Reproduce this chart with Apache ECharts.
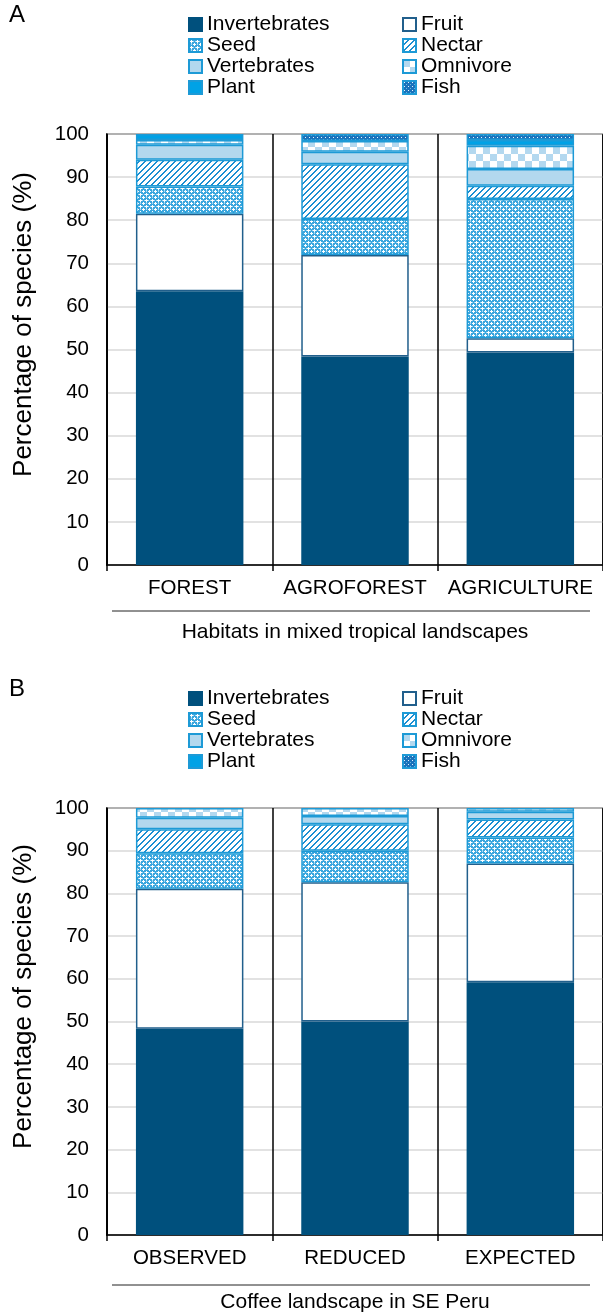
<!DOCTYPE html>
<html>
<head>
<meta charset="utf-8">
<script src="https://cdn.jsdelivr.net/npm/echarts@6/dist/echarts.min.js"></script>
<style>
html, body { margin: 0; padding: 0; background: #fff; }
#chart { width: 603px; height: 1314px; }
</style>
</head>
<body>
<div id="chart"></div>
<script>
const groups = ['Invertebrates', 'Fruit', 'Seed', 'Nectar', 'Vertebrates', 'Omnivore', 'Plant', 'Fish']
const habitatsA = ['FOREST', 'AGROFOREST', 'AGRICULTURE']
const scenariosB = ['OBSERVED', 'REDUCED', 'EXPECTED']

// panel A: % of species per diet guild, per habitat
const invertebratesA = [63.5, 48.4, 49.3]
const fruitA = [18.0, 23.5, 3.3]
const seedA = [6.3, 8.4, 32.3]
const nectarA = [6.2, 12.7, 3.1]
const vertebratesA = [3.5, 2.9, 3.9]
const omnivoreA = [1.1, 2.5, 5.4]
const plantA = [1.4, 0, 1.3]
const fishA = [0, 1.6, 1.4]

// panel B: coffee landscape scenarios
const invertebratesB = [48.3, 50.0, 59.2]
const fruitB = [32.8, 32.6, 27.8]
const seedB = [8.3, 7.4, 6.1]
const nectarB = [5.6, 6.2, 4.2]
const vertebratesB = [2.7, 1.9, 1.8]
const omnivoreB = [2.3, 1.9, 0.9]
const plantB = [0, 0, 0]
const fishB = [0, 0, 0]

const yTicks = { min: 0, max: 100, interval: 10 }
const FONT = 'Liberation Sans, Arial, sans-serif'

// small canvas tiles for the hatched fills
function tile(size, draw) {
  const c = document.createElement('canvas')
  c.width = size
  c.height = size
  draw(c.getContext('2d'))
  return { image: c, repeat: 'repeat' }
}
function dots(g, col, pts) {
  g.fillStyle = col
  pts.forEach(p => g.fillRect(p[0], p[1], 1, 1))
}

const seedFill = tile(6, g => {
  g.fillStyle = '#3aa6de'
  g.fillRect(0, 0, 6, 6)
  dots(g, '#ffffff', [[2, 1], [1, 2], [2, 2], [3, 2], [2, 3], [5, 4], [4, 5], [5, 5], [0, 5], [5, 0]])
  dots(g, '#a9d8f1', [[0, 2], [4, 2], [2, 5], [2, 4]])
})
const nectarFill = tile(6, g => {
  g.fillStyle = '#ffffff'
  g.fillRect(0, 0, 6, 6)
  const pts = []
  for (let x = 0; x < 6; x++) {
    pts.push([x, 5 - x])
    pts.push([x, (6 - x) % 6])
  }
  dots(g, '#1b8fd2', pts)
})
const omnivoreFill = tile(14, g => {
  g.fillStyle = '#ffffff'
  g.fillRect(0, 0, 14, 14)
  g.fillStyle = '#b3d8ef'
  g.fillRect(0, 0, 7, 7)
  g.fillRect(7, 7, 7, 7)
})
const fishFill = tile(4, g => {
  g.fillStyle = '#1a72bb'
  g.fillRect(0, 0, 4, 4)
  dots(g, '#e8f4fb', [[1, 1]])
  dots(g, '#6ab4e0', [[3, 3]])
})

const looks = [
  { color: '#00507d', borderColor: '#00507d' },
  { color: '#ffffff', borderColor: '#215f8c' },
  { color: seedFill, borderColor: '#1d9ad6' },
  { color: nectarFill, borderColor: '#1d9ad6' },
  { color: '#b3d8ee', borderColor: '#1d9ad6' },
  { color: omnivoreFill, borderColor: '#1d9ad6' },
  { color: '#00a2e6', borderColor: '#1d9ad6' },
  { color: fishFill, borderColor: '#1d9ad6' }
]

function makeSeries(values, idx) {
  return groups.map((name, i) => ({
    name: name,
    type: 'bar',
    stack: 'panel' + idx,
    xAxisIndex: idx,
    yAxisIndex: idx,
    barWidth: '65%',
    data: values[i].map(v => (v === 0 ? '-' : v)),
    itemStyle: Object.assign({ borderWidth: 1.5 }, looks[i]),
    emphasis: { disabled: true }
  }))
}

function legendCol(names, left, top) {
  return {
    data: names,
    orient: 'vertical',
    left: left,
    top: top,
    padding: 0,
    icon: 'rect',
    itemWidth: 13,
    itemHeight: 13,
    itemGap: 0,
    selectedMode: false,
    textStyle: { fontFamily: FONT, fontSize: 21, lineHeight: 21, color: '#000' }
  }
}

function xAxisFor(idx, cats, title) {
  return {
    gridIndex: idx,
    type: 'category',
    data: cats,
    axisLine: { lineStyle: { color: '#000', width: 1.5 } },
    axisTick: { show: true, interval: 0, length: 6, lineStyle: { color: '#000', width: 1.5 } },
    splitLine: { show: true, interval: 0, lineStyle: { color: '#000', width: 1.5 } },
    axisLabel: { interval: 0, fontFamily: FONT, fontSize: 20.5, color: '#000', margin: 13 },
    name: title,
    nameLocation: 'middle',
    nameGap: 57,
    nameTextStyle: { fontFamily: FONT, fontSize: 21, color: '#000' }
  }
}

function yAxisFor(idx) {
  return Object.assign({
    gridIndex: idx,
    type: 'value',
    axisLine: { show: true, lineStyle: { color: '#000', width: 1.5 } },
    axisTick: { show: false },
    splitLine: { lineStyle: { color: '#d9d9d9', width: 1.5 } },
    axisLabel: { fontFamily: FONT, fontSize: 20.5, color: '#000', margin: 18 },
    name: 'Percentage of species (%)',
    nameLocation: 'middle',
    nameGap: 70,
    nameTextStyle: { fontFamily: FONT, fontSize: 26, color: '#000', padding: [0, 0, 0, 50] }
  }, yTicks)
}

const myChart = echarts.init(document.getElementById('chart'))
const option = {
  animation: false,
  backgroundColor: '#fff',
  title: [
    { text: 'A', left: 9, top: 3, padding: 0, textStyle: { fontFamily: FONT, fontSize: 24, fontWeight: 'normal', color: '#000' } },
    { text: 'B', left: 9, top: 677, padding: 0, textStyle: { fontFamily: FONT, fontSize: 24, fontWeight: 'normal', color: '#000' } }
  ],
  legend: [
    legendCol(['Invertebrates', 'Seed', 'Vertebrates', 'Plant'], 188, 14),
    legendCol(['Fruit', 'Nectar', 'Omnivore', 'Fish'], 402, 14),
    legendCol(['Invertebrates', 'Seed', 'Vertebrates', 'Plant'], 188, 688),
    legendCol(['Fruit', 'Nectar', 'Omnivore', 'Fish'], 402, 688)
  ],
  grid: [
    { left: 107, right: -4, top: 134, bottom: 749, show: true, borderColor: '#000', borderWidth: 1.5 },
    { left: 107, right: -4, top: 808, bottom: 73, show: true, borderColor: '#000', borderWidth: 1.5 }
  ],
  xAxis: [
    xAxisFor(0, habitatsA, 'Habitats in mixed tropical landscapes'),
    xAxisFor(1, scenariosB, 'Coffee landscape in SE Peru')
  ],
  yAxis: [yAxisFor(0), yAxisFor(1)],
  graphic: [
    { type: 'line', shape: { x1: 112, y1: 611, x2: 590, y2: 611 }, style: { stroke: '#222', lineWidth: 1 } },
    { type: 'line', shape: { x1: 112, y1: 1285, x2: 590, y2: 1285 }, style: { stroke: '#222', lineWidth: 1 } }
  ],
  series: makeSeries([invertebratesA, fruitA, seedA, nectarA, vertebratesA, omnivoreA, plantA, fishA], 0)
    .concat(makeSeries([invertebratesB, fruitB, seedB, nectarB, vertebratesB, omnivoreB, plantB, fishB], 1))
}
myChart.setOption(option)
window.addEventListener('resize', function() {
  myChart.resize()
})
</script>
</body>
</html>
